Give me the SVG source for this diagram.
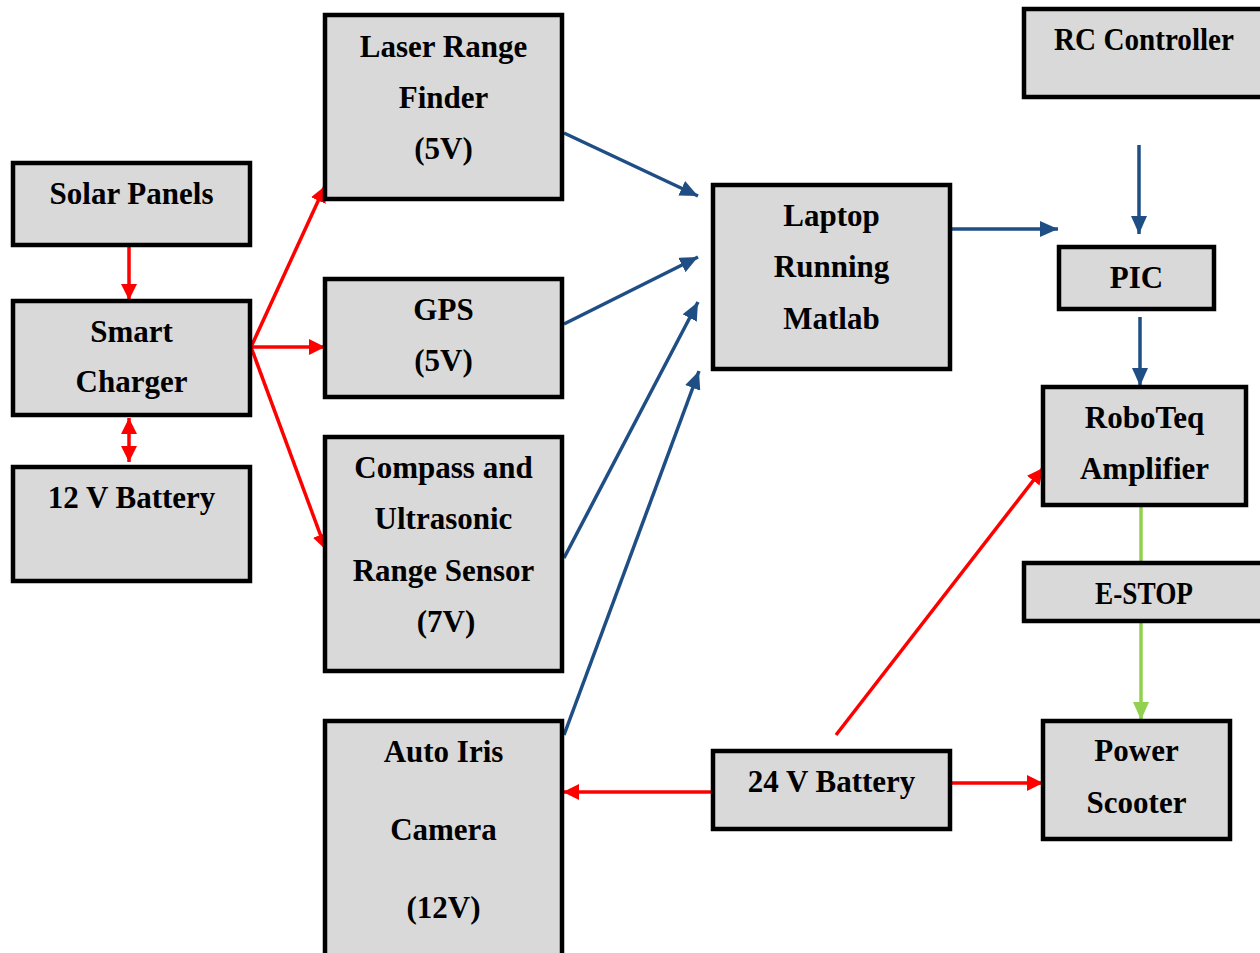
<svg xmlns="http://www.w3.org/2000/svg" width="1260" height="953" viewBox="0 0 1260 953">
<style>
.box{fill:#d9d9d9;stroke:#000;stroke-width:4.5}
text{font-family:"Liberation Serif","Times New Roman",serif;font-weight:bold;font-size:31px;fill:#000;text-anchor:middle}
.r{stroke:#ff0000;stroke-width:3.5;fill:none}
.b{stroke:#1f4e85;stroke-width:3.5;fill:none}
.g{stroke:#92d050;stroke-width:3.5;fill:none}
</style>
<defs>
<marker id="ar" markerUnits="userSpaceOnUse" markerWidth="16" markerHeight="16" refX="16" refY="8" orient="auto-start-reverse"><path d="M0,0 L16,8 L0,16 z" fill="#ff0000"/></marker>
<marker id="ab" markerUnits="userSpaceOnUse" markerWidth="18" markerHeight="16" refX="18" refY="8" orient="auto"><path d="M0,0 L18,8 L0,16 z" fill="#1f4e85"/></marker>
<marker id="ag" markerUnits="userSpaceOnUse" markerWidth="18" markerHeight="16" refX="18" refY="8" orient="auto"><path d="M0,0 L18,8 L0,16 z" fill="#92d050"/></marker>
</defs>
<g id="connectors">
<line class="r" x1="129" y1="247" x2="129" y2="300" marker-end="url(#ar)"/>
<line class="r" x1="129" y1="418" x2="129" y2="462" marker-start="url(#ar)" marker-end="url(#ar)"/>
<line class="r" x1="251" y1="347" x2="325" y2="186" marker-end="url(#ar)"/>
<line class="r" x1="251" y1="347" x2="325" y2="347" marker-end="url(#ar)"/>
<line class="r" x1="251" y1="347" x2="326" y2="550" marker-end="url(#ar)"/>
<line class="b" x1="564" y1="133" x2="698" y2="196" marker-end="url(#ab)"/>
<line class="b" x1="564" y1="324" x2="698" y2="257" marker-end="url(#ab)"/>
<line class="b" x1="564" y1="558" x2="698" y2="302" marker-end="url(#ab)"/>
<line class="b" x1="564" y1="735" x2="699" y2="371" marker-end="url(#ab)"/>
<line class="b" x1="952" y1="229" x2="1058" y2="229" marker-end="url(#ab)"/>
<line class="b" x1="1139" y1="145" x2="1139" y2="234" marker-end="url(#ab)"/>
<line class="b" x1="1140" y1="317" x2="1140" y2="386" marker-end="url(#ab)"/>
<line class="g" x1="1141" y1="507" x2="1141" y2="561"/>
<line class="g" x1="1141" y1="623" x2="1141" y2="720" marker-end="url(#ag)"/>
<line class="r" x1="836" y1="735" x2="1043" y2="468" marker-end="url(#ar)"/>
<line class="r" x1="711" y1="792" x2="563" y2="792" marker-end="url(#ar)"/>
<line class="r" x1="952" y1="783" x2="1043" y2="783" marker-end="url(#ar)"/>
</g>
<g id="solar"><rect class="box" x="13" y="163" width="237" height="82"/><text x="131.5" y="204">Solar Panels</text></g>
<g id="smart"><rect class="box" x="13" y="301" width="237" height="114"/><text x="131.5" y="342">Smart</text><text x="131.5" y="392">Charger</text></g>
<g id="bat12"><rect class="box" x="13" y="467" width="237" height="114"/><text x="131.5" y="508">12 V Battery</text></g>
<g id="laser"><rect class="box" x="325" y="15" width="237" height="184"/><text x="443.5" y="57">Laser Range</text><text x="443.5" y="108">Finder</text><text x="443.5" y="159">(5V)</text></g>
<g id="gps"><rect class="box" x="325" y="279" width="237" height="118"/><text x="443.5" y="320">GPS</text><text x="443.5" y="371">(5V)</text></g>
<g id="compass"><rect class="box" x="325" y="437" width="237" height="234"/><text x="443.5" y="478">Compass and</text><text x="443.5" y="529">Ultrasonic</text><text x="443.5" y="581">Range Sensor</text><text x="446" y="632">(7V)</text></g>
<g id="camera"><rect class="box" x="325" y="721" width="237" height="240"/><text x="443.5" y="762">Auto Iris</text><text x="443.5" y="840">Camera</text><text x="443.5" y="918">(12V)</text></g>
<g id="laptop"><rect class="box" x="713" y="185" width="237" height="184"/><text x="831.5" y="226">Laptop</text><text x="831.5" y="277">Running</text><text x="831.5" y="329">Matlab</text></g>
<g id="rc"><rect class="box" x="1024" y="9" width="250" height="88"/><text x="1144" y="50" textLength="180" lengthAdjust="spacingAndGlyphs">RC Controller</text></g>
<g id="pic"><rect class="box" x="1059" y="247" width="155" height="62"/><text x="1136.5" y="288">PIC</text></g>
<g id="roboteq"><rect class="box" x="1043" y="387" width="203" height="118"/><text x="1144.5" y="428">RoboTeq</text><text x="1144.5" y="479">Amplifier</text></g>
<g id="estop"><rect class="box" x="1024" y="563" width="250" height="58"/><text x="1144" y="604" textLength="98" lengthAdjust="spacingAndGlyphs">E-STOP</text></g>
<g id="scooter"><rect class="box" x="1043" y="721" width="187" height="118"/><text x="1136.5" y="761">Power</text><text x="1136.5" y="813">Scooter</text></g>
<g id="bat24"><rect class="box" x="713" y="751" width="237" height="78"/><text x="831.5" y="792">24 V Battery</text></g>
</svg>
